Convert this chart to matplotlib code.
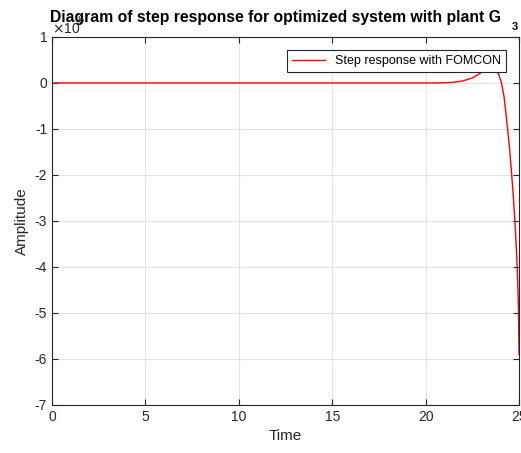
import numpy as np
import matplotlib.pyplot as plt

plt.rcParams['font.family'] = ['Liberation Sans', 'DejaVu Sans']

# step response (amplitude in units of 1e6)
time = [0, 5, 10, 15, 20, 20.5, 21, 21.5, 22, 22.5, 22.8, 23.1, 23.4, 23.7, 23.9,
        24.05, 24.2, 24.35, 24.5, 24.6, 24.7, 24.8, 24.87, 24.93, 24.97, 25]
amplitude = [0, 0, 0, 0, 0, 0.001, 0.004, 0.015, 0.045, 0.11, 0.18, 0.26, 0.31, 0.3, 0.2,
             0.02, -0.3, -0.85, -1.45, -1.95, -2.5, -3.15, -3.7, -4.3, -4.9, -5.9]

xticks = [0, 5, 10, 15, 20, 25]
yticks = [1, 0, -1, -2, -3, -4, -5, -6, -7]

fig = plt.figure(figsize=(5.21, 4.53), dpi=100)
ax = fig.add_axes([0.0998, 0.106, 0.8964, 0.8124])

ax.plot(time, amplitude, color='red', linewidth=1.0, label='Step response with FOMCON')

ax.set_xlim(0, 25)
ax.set_ylim(-7, 1)
ax.set_xticks(xticks)
ax.set_yticks(yticks)
ax.set_yticklabels([str(v) for v in yticks])
ax.grid(True, color='#e3e3e3', linewidth=0.8)
ax.set_axisbelow(True)
ax.tick_params(direction='in', top=True, right=True, labelsize=10, colors='#262626',
               length=4)
for s in ax.spines.values():
    s.set_color('#262626')
    s.set_linewidth(0.8)

ax.set_xlabel('Time', fontsize=11, color='#262626')
ax.set_ylabel('Amplitude', fontsize=11, color='#262626')

leg = ax.legend(loc='upper right', fontsize=9, fancybox=False, framealpha=1,
                edgecolor='#262626', borderaxespad=1.05, handlelength=2.6)
leg.get_frame().set_linewidth(0.8)

fig.text(0.528, 0.962, 'Diagram of step response for optimized system with plant G',
         ha='center', va='center', fontsize=11.3, fontweight='bold', color='black')
fig.text(0.988, 0.94, '3', ha='center', va='center', fontsize=8, fontweight='bold')
fig.text(0.1, 0.935, r'$\times$10', ha='left', va='center', fontsize=10, color='#262626')
fig.text(0.148, 0.955, '6', ha='left', va='center', fontsize=8, color='#262626')

fig.savefig('out.png', dpi=100)
